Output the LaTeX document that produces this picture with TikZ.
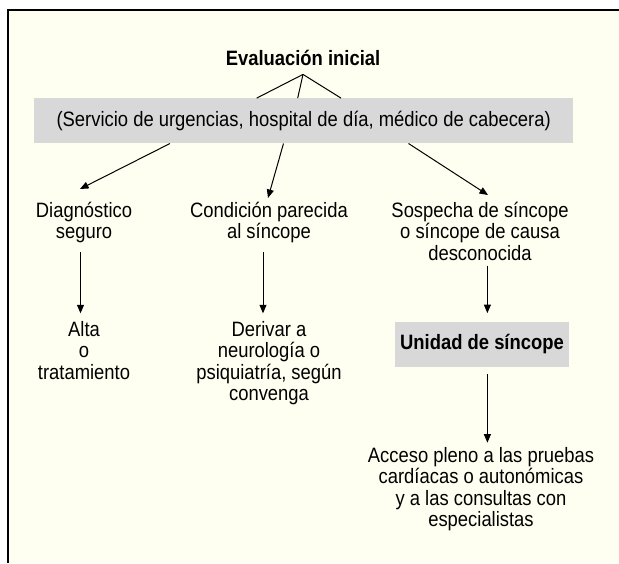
\documentclass[tikz,border=0pt]{standalone}
\usepackage{fontspec}
\setmainfont{Liberation Sans}[FakeStretch=0.885]
\usetikzlibrary{arrows.meta}

\definecolor{cream}{RGB}{255,255,241}
\definecolor{boxgray}{RGB}{216,216,216}

\begin{document}
\begin{tikzpicture}[x=1pt,y=-1pt,
  every node/.style={font=\fontsize{20.8}{21.5}\selectfont, inner sep=0pt, align=center},
  arr/.style={-{Triangle[length=8.5pt,width=7pt]}, line width=1pt},
  greybox/.style={fill=boxgray}]
  \useasboundingbox (0,0) rectangle (619,563);
  \fill[cream] (8,9.5) rectangle (619,563);
  \draw[line width=2pt] (7,9.5) -- (619,9.5);
  \draw[line width=2pt] (8.2,9.5) -- (8.2,563);

  \node[anchor=base, inner sep=9pt] (eval) at (303,65) {\bfseries Evaluación inicial};
  \node[greybox, minimum width=539pt, minimum height=45pt] (serv) at (303.7,120.8)
    {(Servicio de urgencias, hospital de día, médico de cabecera)};
  \foreach \dx in {-47,-6,37.3} {\draw[line width=1pt] (eval.south) -- ([xshift=\dx pt]serv.north);}

  \node[anchor=north] (diag) at (84,201.8) {Diagnóstico\\seguro};
  \node[anchor=north] (cond) at (269,201.8) {Condición parecida\\al síncope};
  \node[anchor=north] (sosp) at (480,201.8) {Sospecha de síncope\\o síncope de causa\\desconocida};

  \node[anchor=north] (alta) at (84,320.8) {Alta\\o\\tratamiento};
  \node[anchor=north] (deriv) at (269,320.8) {Derivar a\\neurología o\\psiquiatría, según\\convenga};
  \node[greybox, minimum width=174pt, minimum height=44.4pt, font=\fontsize{20.8}{21.5}\selectfont\bfseries] (unid) at (482,344.5) {Unidad de síncope};
  \node[anchor=north] (acc) at (481,446.8) {Acceso pleno a las pruebas\\cardíacas o autonómicas\\y a las consultas con\\especialistas};

  \draw[arr] ([xshift=-133.7pt]serv.south) -- ([shift={(-4,-12.8)}]diag.north);
  \draw[arr] ([xshift=-20.2pt]serv.south) -- ([shift={(-1,-3.8)}]cond.north);
  \draw[arr] ([xshift=104.8pt]serv.south) -- ([shift={(8,-6.8)}]sosp.north);

  \draw[arr] ([shift={(-3.5,8.6)}]diag.south) -- ([shift={(-3.5,-7.5)}]alta.north);
  \draw[arr] ([shift={(-6,8.6)}]cond.south) -- ([shift={(-6,-7.5)}]deriv.north);
  \draw[arr] ([shift={(7.4,5)}]sosp.south) -- ([shift={(5.4,-9)}]unid.north);
  \draw[arr] ([shift={(5.4,7.3)}]unid.south) -- ([shift={(6.4,-4.1)}]acc.north);
\end{tikzpicture}
\end{document}
